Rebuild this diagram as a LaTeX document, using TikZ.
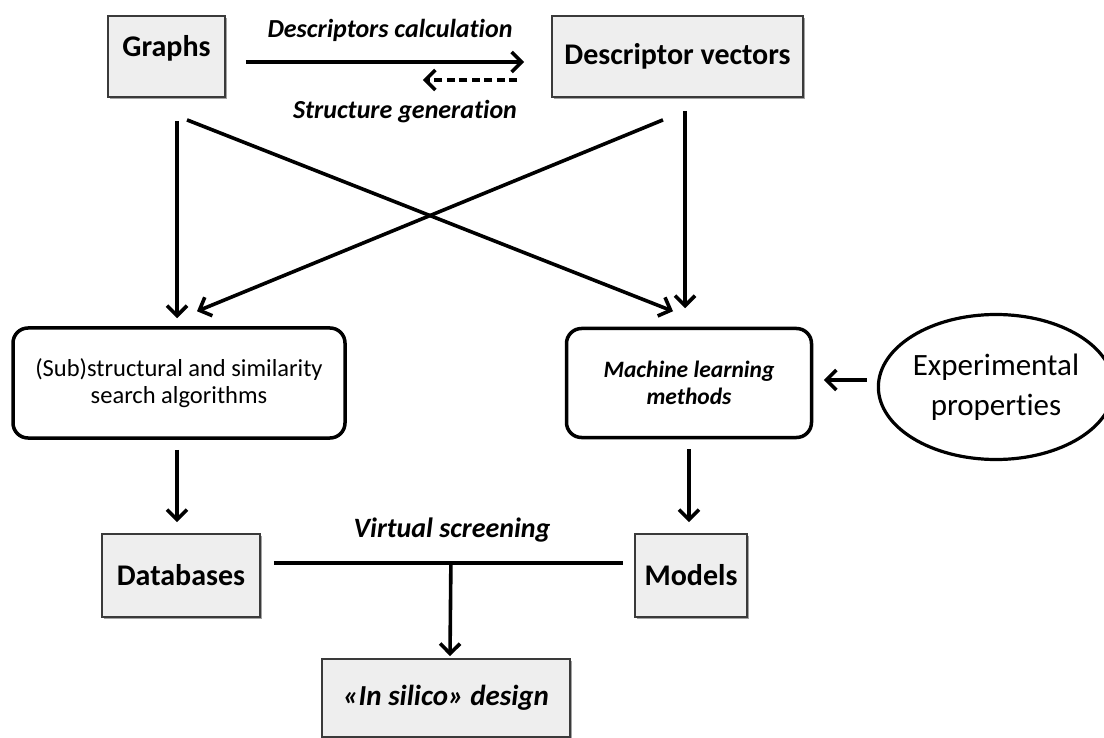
\documentclass[tikz,border=0pt]{standalone}
\usepackage{fontspec}
\setmainfont{Carlito}[RawFeature={-liga}]
\usetikzlibrary{arrows.meta,calc,shapes.geometric,shadows}
\definecolor{boxfill}{HTML}{EEEEEE}
\definecolor{boxline}{HTML}{3A3A3A}
\begin{document}
\begin{tikzpicture}[x=1pt,y=-1pt,
  graybox/.style={draw=boxline,line width=1.8pt,fill=boxfill,
    drop shadow={shadow xshift=2pt,shadow yshift=-2pt,fill=black!45,opacity=0.8},
    font=\fontsize{30}{34}\selectfont\bfseries,inner sep=0pt},
  roundbox/.style={draw=black,line width=3.5pt,fill=white,rounded corners=15pt,
    align=center,inner sep=0pt},
  conn/.style={line width=3.6pt,-{Straight Barb[length=10pt,width=20pt]}},
  plainline/.style={line width=3.6pt},
  lbl/.style={font=\fontsize{26}{30}\selectfont\bfseries\itshape,inner sep=0pt}
]
\useasboundingbox[fill=white] (0,0) rectangle (1104,738);

% boxes
\node[graybox,minimum width=117pt,minimum height=81pt,text depth=22pt] (graphs) at (166.5,56.5) {Graphs};
\node[graybox,minimum width=251pt,minimum height=81pt] (desc) at (677.5,56.5) {Descriptor vectors};
\node[roundbox,minimum width=332pt,minimum height=110pt,
  font=\fontsize{24.5}{27.5}\selectfont] (sub) at (179,383)
  {(Sub)structural and similarity\\search algorithms};
\node[roundbox,minimum width=245pt,minimum height=109pt,
  font=\fontsize{23.5}{27.5}\selectfont\bfseries\itshape] (ml) at (689,383)
  {Machine learning\\methods};
\node[ellipse,draw=black,line width=3.2pt,fill=white,minimum width=216pt,minimum height=145pt,
  inner sep=0pt,align=center,font=\fontsize{31}{40}\selectfont] (exp) at (996,387)
  {Experimental\\properties};
\node[graybox,minimum width=158pt,minimum height=83pt] (db) at (181,575.5) {Databases};
\node[graybox,minimum width=112pt,minimum height=83pt] (models) at (691,575.5) {Models};
\node[graybox,minimum width=248pt,minimum height=78pt,
  font=\fontsize{29}{34}\selectfont\bfseries\itshape] (insilico) at (446,698) {«In silico» design};

% labels
\node[lbl] (lcalc) at (390,30) {Descriptors calculation};
\node[lbl] (lgen) at (405,112) {Structure generation};
\node[lbl,font=\fontsize{28}{32}\selectfont\bfseries\itshape] (lvs) at (452,530) {Virtual screening};

% top arrows
\draw[conn] ($(graphs.east)+(20,5.5)$) -- ($(desc.west)+(-27,5.5)$);
\draw[conn,dash pattern=on 8pt off 4.5pt] ($(desc.west)+(-34,23.5)$) -- ($(graphs.east)+(197,23.5)$);

% cross connectors
\draw[conn] ($(graphs.south)+(10.5,23)$) -- ($(sub.north)+(-2,-8)$);
\draw[conn] ($(graphs.south)+(20.5,22)$) -- ($(ml.north)+(-16,-15.5)$);
\draw[conn] ($(desc.south)+(-14.5,22)$) -- ($(sub.north)+(18,-15)$);
\draw[conn] ($(desc.south)+(7.5,13)$) -- ($(ml.north)+(-4,-18.5)$);

% experimental -> ML
\draw[conn] ($(exp.west)+(-10,-7)$) -- ($(ml.east)+(10.5,-3)$);

% down arrows
\draw[conn] ($(sub.south)+(-2,10)$) -- ($(db.north)+(-4,-11)$);
\draw[conn] ($(ml.south)+(0,10)$) -- ($(models.north)+(-2,-11)$);

% virtual screening
\draw[plainline] ($(db.east)+(13,-12.5)$) -- ($(models.west)+(-11,-12.5)$);
\coordinate (vsj) at ($(db.east)+(190,-12.5)$);
\draw[conn] (vsj) -- ($(insilico.north)+(4,-2)$);
\end{tikzpicture}
\end{document}
